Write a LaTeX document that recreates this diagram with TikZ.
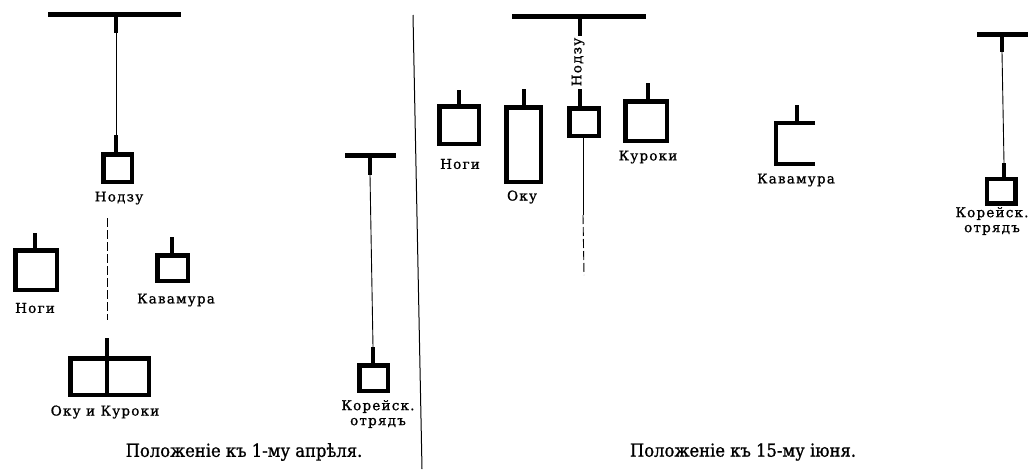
\documentclass[tikz,border=0pt]{standalone}
\usepackage{fontspec}
\setmainfont{DejaVu Serif}
\newfontfamily\lblfont{DejaVu Serif}[LetterSpace=9,FakeBold=1]
\newfontfamily\capfont{DejaVu Serif}[FakeStretch=0.91,FakeBold=1]
\begin{document}
\begin{tikzpicture}[x=1pt,y=-1pt,
  bar/.style={fill=black,inner sep=0,minimum height=5pt},
  box/.style={draw,line width=4.5pt,inner sep=0},
  stem/.style={line width=4pt},
  thin/.style={line width=0.9pt},
  brk/.style={thin,dash pattern=on 9pt off 3pt},
  lbl/.style={inner sep=0,font=\lblfont\fontsize{13.5}{15}\selectfont,align=center},
  captxt/.style={inner sep=0,font=\capfont\fontsize{18}{20}\selectfont}]
\useasboundingbox[fill=white] (0,0) rectangle (1029,469);

% ---------------- left panel ----------------
\node[bar,minimum width=133pt] (lbar) at (114.5,14) {};
\node[box,minimum width=28.5pt,minimum height=27.5pt] (lnod) at (117.5,168) {};
\coordinate (lnA) at (116,33);
\coordinate (lnB) at (116,135);
\draw[stem] (lbar.south -| lnA) -- (lnA);
\draw[thin] (lnA) -- (lnB);
\draw[stem] (lnB) -- (lnB |- lnod.north);
\node[lbl] (lnodl) at (119,198) {Нодзу};

\coordinate (ld1) at (107,218);
\coordinate (ld2) at (107,320);
\draw[brk] (ld1) -- (ld2);

\coordinate (lok0) at (107,338);
\node[box,minimum width=78.5pt,minimum height=36.5pt] (lok) at (109.5,376.5) {};
\draw[stem] (lok0) -- (lok0 |- lok.north);
\draw[line width=3.5pt] (lok0 |- lok.north) -- (lok0 |- lok.south);
\node[lbl] (lokl) at (105,412) {Оку и Куроки};

\coordinate (lng0) at (35,233);
\node[box,minimum width=41.5pt,minimum height=39.5pt] (lng) at (36,270) {};
\draw[stem] (lng0) -- (lng0 |- lng.north);
\node[lbl] (lngl) at (35,308) {Ноги};

\coordinate (lkw0) at (172,237);
\node[box,minimum width=30.5pt,minimum height=25.5pt] (lkw) at (172.5,268) {};
\draw[stem] (lkw0) -- (lkw0 |- lkw.north);
\node[lbl] (lkwl) at (176,300) {Кавамура};

\node[bar,minimum width=51pt] (lkbar) at (370.5,155.5) {};
\coordinate (lkA) at (370,175);
\coordinate (lkB) at (373,347);
\node[box,minimum width=28.5pt,minimum height=25.5pt] (lko) at (373.5,378) {};
\draw[stem] (lkbar.south -| lkA) -- (lkA);
\draw[thin] (lkA) -- (lkB);
\draw[stem] (lkB) -- (lkB |- lko.north);
\node[lbl] (lkol) at (378,414) {Корейск.\\отрядъ};

% separator
\coordinate (sep1) at (413,15);
\coordinate (sep2) at (422,469);
\draw[line width=1pt] (sep1) -- (sep2);

\node[captxt] (lcap) at (244,452) {Положеніе къ 1-му апрѣля.};

% ---------------- right panel ----------------
\node[bar,minimum width=134pt] (rbar) at (579,16.5) {};
\coordinate (rnA) at (580,36);
\coordinate (rnB) at (580,89);
\node[lbl,rotate=90] (rnodl) at (578,62) {Нодзу};
\node[box,minimum width=29.5pt,minimum height=27.5pt] (rnod) at (584,122) {};
\draw[stem] (rbar.south -| rnA) -- (rnA);
\draw[stem] (rnB) -- (rnB |- rnod.north);
\coordinate (rd1) at (583,215);
\coordinate (rd2) at (584,275);
\draw[thin] (rd1 |- rnod.south) -- (rd1);
\draw[brk] (rd1) -- (rd2);

\coordinate (rng0) at (459,90);
\node[box,minimum width=39.5pt,minimum height=37.5pt] (rng) at (459,125) {};
\draw[stem] (rng0) -- (rng0 |- rng.north);
\node[lbl] (rngl) at (460,164) {Ноги};

\coordinate (rok0) at (524,89);
\node[box,minimum width=34.5pt,minimum height=74.5pt] (rok) at (523.5,144.5) {};
\draw[stem] (rok0) -- (rok0 |- rok.north);
\node[lbl] (rokl) at (522,197) {Оку};

\coordinate (rku0) at (648,83);
\node[box,minimum width=41.5pt,minimum height=39.5pt] (rku) at (646,121) {};
\draw[stem] (rku0) -- (rku0 |- rku.north);
\node[lbl] (rkul) at (648,157) {Куроки};

\coordinate (rkw0) at (797,105);
\node[inner sep=0,minimum width=39pt,minimum height=41pt] (rkw) at (795.5,143.5) {};
\draw[stem] (rkw0) -- (rkw0 |- rkw.north);
\draw[line width=4.5pt] (rkw.north east) -- (rkw.north west) -- (rkw.south west) -- (rkw.south east);
\node[lbl] (rkwl) at (796,180) {Кавамура};

\node[bar,minimum width=51pt] (rkbar) at (1002.5,34) {};
\coordinate (rkA) at (1002,52);
\coordinate (rkB) at (1004,163);
\node[box,minimum width=28.5pt,minimum height=24.5pt] (rko) at (1001,191) {};
\draw[stem] (rkbar.south -| rkA) -- (rkA);
\draw[thin] (rkA) -- (rkB);
\draw[stem] (rkB) -- (rkB |- rko.north);
\node[lbl] (rkol) at (992,221) {Корейск.\\отрядъ};

\node[captxt] (rcap) at (743,452) {Положеніе къ 15-му іюня.};
\end{tikzpicture}
\end{document}
